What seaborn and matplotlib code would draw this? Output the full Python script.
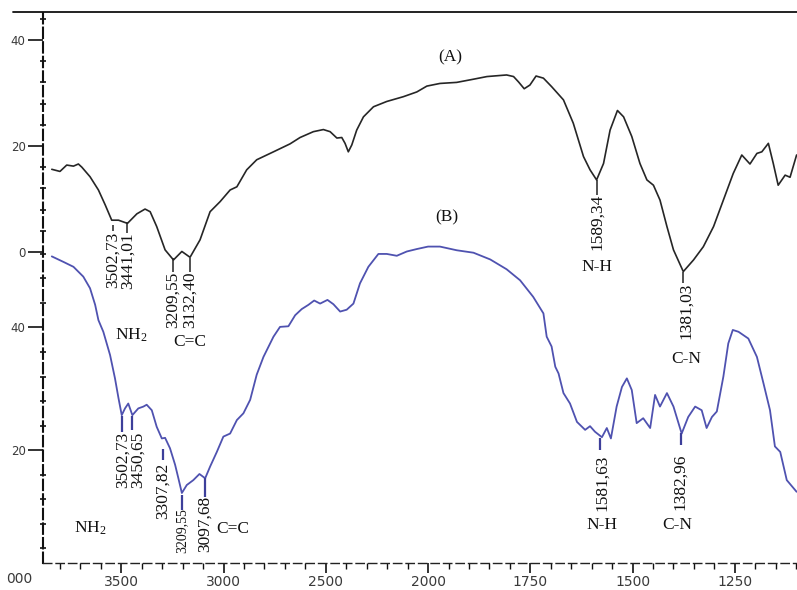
import numpy as np
import pandas as pd
import matplotlib
matplotlib.use("Agg")
import matplotlib.pyplot as plt
from matplotlib.lines import Line2D
import seaborn as sns

# ---------------- data ----------------
wn_a = [3840, 3800, 3767, 3734, 3710, 3693, 3653, 3612, 3579, 3547, 3514, 3470, 3424, 3384,
        3359, 3327, 3286, 3245, 3204, 3164, 3115, 3066, 3017, 2968, 2935, 2887, 2838, 2756,
        2675, 2626, 2561, 2512, 2479, 2446, 2422, 2406, 2390, 2373, 2349, 2316, 2267, 2202,
        2121, 2055, 2006, 1971, 1930, 1889, 1856, 1808, 1791, 1779, 1765, 1751, 1736, 1718,
        1698, 1669, 1645, 1620, 1604, 1588, 1571, 1555, 1537, 1522, 1502, 1482, 1465, 1449,
        1433, 1416, 1400, 1376, 1351, 1327, 1302, 1278, 1254, 1233, 1213, 1196, 1184, 1168,
        1156, 1144, 1127, 1115, 1099]
t_a = [15.6, 15.2, 16.4, 16.2, 16.6, 16.0, 14.2, 11.7, 8.9, 6.0, 6.0, 5.4, 7.2, 8.1,
       7.6, 4.8, 0.4, -1.5, 0.1, -1.0, 2.3, 7.6, 9.5, 11.7, 12.3, 15.5, 17.4, 18.9,
       20.4, 21.6, 22.7, 23.1, 22.7, 21.5, 21.6, 20.5, 18.9, 20.2, 23.0, 25.5, 27.4, 28.4,
       29.3, 30.2, 31.3, 31.8, 32.0, 32.6, 33.1, 33.4, 33.1, 32.1, 30.8, 31.5, 33.2, 32.8,
       31.2, 28.7, 24.3, 18.0, 15.5, 13.6, 16.7, 23.0, 26.7, 25.5, 21.8, 16.7, 13.6, 12.6,
       9.8, 4.8, 0.4, -3.7, -1.5, 1.0, 4.8, 9.8, 14.8, 18.3, 16.6, 18.6, 18.9, 20.5,
       16.7, 12.6, 14.5, 14.1, 18.3]

wn_b = [3840, 3783, 3734, 3686, 3653, 3628, 3612, 3588, 3555, 3531, 3514, 3498, 3482, 3466,
        3446, 3417, 3392, 3376, 3351, 3327, 3302, 3286, 3262, 3237, 3221, 3204, 3180, 3148,
        3118, 3090, 3066, 3033, 3001, 2968, 2935, 2903, 2870, 2838, 2805, 2756, 2724, 2683,
        2650, 2618, 2585, 2557, 2528, 2492, 2463, 2430, 2398, 2365, 2333, 2292, 2243, 2202,
        2153, 2104, 2055, 2000, 1971, 1930, 1889, 1848, 1808, 1775, 1743, 1718, 1710, 1698,
        1689, 1681, 1669, 1653, 1636, 1616, 1604, 1592, 1575, 1563, 1553, 1539, 1526, 1514,
        1502, 1490, 1474, 1457, 1445, 1433, 1416, 1400, 1380, 1364, 1347, 1331, 1319, 1306,
        1294, 1278, 1266, 1255, 1241, 1217, 1196, 1180, 1164, 1152, 1139, 1123, 1099]
t_b = [51.6, 50.7, 49.9, 48.3, 46.4, 43.7, 41.2, 39.3, 35.5, 31.7, 28.5, 25.7, 26.8, 27.6,
       25.7, 26.8, 27.1, 27.4, 26.5, 23.8, 21.9, 22.0, 20.3, 17.6, 15.4, 13.0, 14.3, 15.1,
       16.1, 15.4, 17.3, 19.7, 22.2, 22.7, 24.9, 26.0, 28.2, 32.3, 35.2, 38.5, 40.1, 40.2,
       42.0, 43.0, 43.7, 44.4, 43.9, 44.5, 43.8, 42.6, 42.9, 43.9, 47.2, 49.9, 52.0, 52.0,
       51.7, 52.4, 52.8, 53.2, 53.2, 52.6, 52.2, 51.1, 49.5, 47.7, 45.0, 42.3, 38.5, 36.9,
       33.6, 32.5, 29.3, 27.6, 24.6, 23.3, 23.9, 23.0, 22.1, 23.6, 21.9, 27.1, 30.3, 31.7,
       29.8, 24.4, 25.2, 23.6, 29.0, 27.1, 29.3, 27.1, 22.7, 25.4, 27.1, 26.5, 23.6, 25.4,
       26.3, 32.0, 37.4, 39.6, 39.3, 38.2, 35.2, 30.9, 26.5, 20.6, 19.7, 15.1, 13.2]

x_major = [3500, 3000, 2500, 2000, 1750, 1500, 1250]
x_tick_labels = ["3500", "3000", "2500", "2000", "1750", "1500", "1250"]
ya_major = [0, 20, 40]
yb_major = [20, 40]

# peak labels: spectrum A
peaks_a_text = ["3502,73", "3441,01", "3209,55", "3132,40", "1589,34", "1381,03"]
peaks_a_wn = [3540, 3467, 3247, 3164, 1587, 1369]
# peak labels: spectrum B
peaks_b_text = ["3502,73", "3450,65", "3307,82", "3209,55", "3097,68", "1581,63", "1382,96"]
peaks_b_wn = [3491, 3418, 3296, 3203, 3090, 1575, 1384]
groups_a = ["NH$_{\\mathregular{2}}$", "C=C", "N-H", "C-N"]
groups_b = ["NH$_{\\mathregular{2}}$", "C=C", "N-H", "C-N"]

# ---------------- layout (positions only) ----------------
# label centre y, leader line (y0, y1, x)
pa_y = [-1.5, -1.7, -9.1, -9.1, 5.7, -11.1]
pa_lead = [(5.1, 4.0, 3540), (5.7, 3.6, 3472), (-1.1, -3.8, 3247), (-1.1, -3.8, 3164),
           (13.6, 10.8, 1588), (-3.8, -5.8, 1376)]
ga_pos = [(3452, -15.7), (3164, -17.0), (1587, -2.8), (1369, -20.2)]
pb_y = [18.4, 18.4, 13.3, 6.8, 7.9, 14.6, 14.8]
pb_lead = [(25.6, 23.0, 3498), (25.6, 23.2, 3446), (20.1, 18.4, 3296), (12.7, 10.2, 3204),
           (15.4, 12.3, 3090), (22.0, 20.0, 1579), (22.8, 20.8, 1382)]
pb_size = [12.5, 12.5, 12.5, 10, 12.5, 12.5, 12.5]
gb_pos = [(3653, 7.3), (2954, 7.1), (1575, 7.8), (1391, 7.8)]

sns.set_theme(style="white")
plt.rcParams["font.family"] = ["DejaVu Sans"]
plt.rcParams["mathtext.fontset"] = "stix"

W, H = 797, 590
fig = plt.figure(figsize=(W / 100, H / 100), dpi=100)
fig.patch.set_facecolor("white")
L, R, T, B = 43, 797, 12, 563
rect = [L / W, 1 - B / H, (R - L) / W, (B - T) / H]
ax_a = fig.add_axes(rect)
ax_b = fig.add_axes(rect, facecolor="none")


def fwd(x):
    x = np.asarray(x, dtype=float)
    return np.where(x >= 2000, x, 2000 - 2 * (2000 - x))


def inv(u):
    u = np.asarray(u, dtype=float)
    return np.where(u >= 2000, u, 2000 - (2000 - u) / 2)


df_a = pd.DataFrame({"wn": wn_a, "T": t_a})
df_b = pd.DataFrame({"wn": wn_b, "T": t_b})

for ax in (ax_a, ax_b):
    ax.set_xscale("function", functions=(fwd, inv))
    ax.set_xlim(3883, 1098)

sns.lineplot(data=df_a, x="wn", y="T", ax=ax_a, sort=False, estimator=None,
             color="#262626", linewidth=1.2)
sns.lineplot(data=df_b, x="wn", y="T", ax=ax_b, sort=False, estimator=None,
             color="#4f52b0", linewidth=1.3)

ax_a.set_ylim(-58.68, 45.28)
ax_b.set_ylim(1.58, 91.47)
for ax in (ax_a, ax_b):
    ax.set_xlim(3883, 1098)
    ax.set_xlabel("")
    ax.set_ylabel("")

tick_col = "#3a3a3a"
# y ticks
ax_a.set_yticks(ya_major)
ax_a.set_yticks([v for v in range(4, 45, 4) if v not in ya_major], minor=True)
ax_b.set_yticks(yb_major)
ax_b.set_yticks([v for v in range(4, 53, 4) if v not in yb_major], minor=True)
for ax in (ax_a, ax_b):
    ax.tick_params(axis="y", which="major", direction="out", length=11, width=1.2,
                   color="#111111", pad=1.5, labelsize=8.5, labelcolor=tick_col, left=True)
    ax.tick_params(axis="y", which="minor", direction="inout", length=4.5, width=1.2,
                   color="#111111", left=True)
    ax.grid(False)

ax_a.set_xticks([])
ax_a.set_xticks([], minor=True)
ax_b.set_xticks(x_major)
ax_b.set_xticklabels(x_tick_labels)
minor_x = [v for v in range(3800, 2000, -100) if v not in x_major] + \
          [v for v in range(1950, 1099, -50) if v not in x_major]
ax_b.set_xticks(minor_x, minor=True)
ax_b.tick_params(axis="x", which="major", direction="out", length=7.5, width=1.2,
                 color="#111111", pad=1, labelsize=10, labelcolor=tick_col, bottom=True)
ax_b.tick_params(axis="x", which="minor", direction="out", length=4.5, width=1.0,
                 color="#111111", bottom=True)

for s in ax_a.spines.values():
    s.set_visible(False)
for k in ("top", "right"):
    ax_b.spines[k].set_visible(False)
ax_b.spines["left"].set_linestyle((0, (5, 2)))
ax_b.spines["left"].set_linewidth(1.5)
ax_b.spines["left"].set_color("#111111")
ax_b.spines["bottom"].set_linestyle((0, (6, 3)))
ax_b.spines["bottom"].set_linewidth(1.0)
ax_b.spines["bottom"].set_color("#222222")

# top frame line
fig.add_artist(Line2D([13 / W, 1.0], [1 - 12 / H, 1 - 12 / H], color="#111111", lw=1.3))

ax_b.annotate("000", xy=(4000, 0), xycoords=("data", "axes fraction"), xytext=(0, -6.5),
              textcoords="offset points", ha="center", va="top", fontsize=10,
              color=tick_col, annotation_clip=False)

serif = ["Liberation Serif", "DejaVu Serif"]
fs = 12.5

ax_a.text(1946, 36.8, "(A)", family=serif, fontsize=fs, ha="center", va="center", color="#111")
ax_b.text(1954, 58.0, "(B)", family=serif, fontsize=fs, ha="center", va="center", color="#111")

for txt, x, y, (y0, y1, lx) in zip(peaks_a_text, peaks_a_wn, pa_y, pa_lead):
    ax_a.text(x, y, txt, rotation=90, family=serif, fontsize=fs, ha="center",
              va="center", color="#111")
    ax_a.vlines(lx, y1, y0, color="#222222", lw=1.1)
for txt, (x, y) in zip(groups_a, ga_pos):
    ax_a.text(x, y, txt, family=serif, fontsize=fs, ha="center", va="center", color="#111")

for txt, x, y, (y0, y1, lx), sz in zip(peaks_b_text, peaks_b_wn, pb_y, pb_lead, pb_size):
    ax_b.text(x, y, txt, rotation=90, family=serif, fontsize=sz, ha="center",
              va="center", color="#111")
    ax_b.vlines(lx, y1, y0, color="#3d3f9a", lw=1.6)
for txt, (x, y) in zip(groups_b, gb_pos):
    ax_b.text(x, y, txt, family=serif, fontsize=fs, ha="center", va="center", color="#111")

fig.savefig("out.png", dpi=100, facecolor="white")
